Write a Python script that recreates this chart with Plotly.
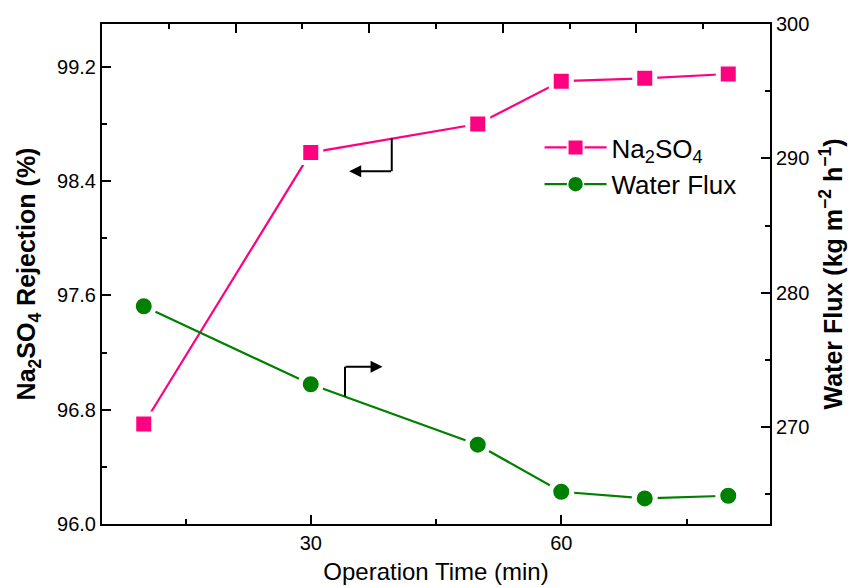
import plotly.graph_objects as go

# Operation time (min)
time_min = [10, 30, 50, 60, 70, 80]
# Na2SO4 rejection (%)
rejection = [96.70, 98.60, 98.80, 99.10, 99.12, 99.15]
# Water flux (kg m-2 h-1)
water_flux = [279.0, 273.2, 268.7, 265.2, 264.7, 264.9]

PINK = "#FF0080"
GREEN = "#008000"
FONT = "Arial, Liberation Sans, sans-serif"
NA2SO4 = "Na<sub>2</sub>SO<sub>4</sub>"

fig = go.Figure()

# data curves (white marker outline leaves a small gap between line and symbol)
fig.add_trace(go.Scatter(
    x=time_min, y=rejection, name=NA2SO4, showlegend=False,
    mode="lines+markers",
    line=dict(color=PINK, width=2.2),
    marker=dict(symbol="square", size=20, color=PINK,
                line=dict(color="white", width=5)),
    xaxis="x", yaxis="y",
))
fig.add_trace(go.Scatter(
    x=time_min, y=water_flux, name="Water Flux", showlegend=False,
    mode="lines+markers",
    line=dict(color=GREEN, width=2.2),
    marker=dict(symbol="circle", size=21, color=GREEN,
                line=dict(color="white", width=5)),
    xaxis="x", yaxis="y2",
))

# legend entries (empty traces so the legend symbols keep full size)
fig.add_trace(go.Scatter(
    x=[None], y=[None], name=NA2SO4, mode="lines+markers",
    line=dict(color=PINK, width=2.2),
    marker=dict(symbol="square", size=16, color=PINK,
                line=dict(color="white", width=2)),
    xaxis="x", yaxis="y",
))
fig.add_trace(go.Scatter(
    x=[None], y=[None], name="Water Flux", mode="lines+markers",
    line=dict(color=GREEN, width=2.2),
    marker=dict(symbol="circle", size=16, color=GREEN,
                line=dict(color="white", width=1.5)),
    xaxis="x", yaxis="y2",
))

# invisible trace to carry the top mirror axis
fig.add_trace(go.Scatter(x=[5, 85], y=[96, 96], mode="lines",
                         line=dict(width=0), hoverinfo="skip",
                         showlegend=False, xaxis="x2", yaxis="y"))

axis_common = dict(
    showline=True, linecolor="black", linewidth=2,
    ticks="inside", tickcolor="black", tickwidth=2, ticklen=9,
    showgrid=False, zeroline=False, automargin=False,
    tickfont=dict(family=FONT, size=20, color="black"),
)

fig.update_layout(
    width=857, height=587,
    margin=dict(l=102, r=87, t=24, b=63),
    paper_bgcolor="white", plot_bgcolor="white",
    font=dict(family=FONT, color="black"),
    xaxis=dict(
        range=[5, 85], tickvals=[30, 60],
        minor=dict(tickvals=[15, 45, 75], ticklen=5, tickwidth=2,
                   tickcolor="black", ticks="inside"),
        title=dict(text="Operation Time (min)",
                   font=dict(family=FONT, size=24), standoff=10),
        **axis_common,
    ),
    xaxis2=dict(
        range=[5, 85], overlaying="x", side="top",
        tickvals=[21, 37, 53, 69], showticklabels=False,
        minor=dict(tickvals=[13, 29, 45, 61, 77], ticklen=5, tickwidth=2,
                   tickcolor="black", ticks="inside"),
        **axis_common,
    ),
    yaxis=dict(
        range=[96.0, 99.5],
        tickvals=[96.0, 96.8, 97.6, 98.4, 99.2],
        ticktext=["96.0", "96.8", "97.6", "98.4", "99.2"],
        minor=dict(tickvals=[96.4, 97.2, 98.0, 98.8], ticklen=5, tickwidth=2,
                   tickcolor="black", ticks="inside"),
        title=dict(text="<b>" + NA2SO4 + " Rejection (%)</b>",
                   font=dict(family=FONT, size=25), standoff=14),
        **axis_common,
    ),
    yaxis2=dict(
        range=[262.8, 300], overlaying="y", side="right",
        tickvals=[270, 280, 290, 300],
        minor=dict(tickvals=[265, 275, 285, 295], ticklen=5, tickwidth=2,
                   tickcolor="black", ticks="inside"),
        title=dict(text="<b>Water Flux (kg m<sup>\u22122</sup> h<sup>\u22121</sup>)</b>",
                   font=dict(family=FONT, size=25), standoff=16),
        **axis_common,
    ),
    legend=dict(
        x=0.655, y=0.80, xanchor="left", yanchor="top",
        bgcolor="rgba(0,0,0,0)", borderwidth=0,
        font=dict(family=FONT, size=26, color="black"),
        tracegroupgap=0, itemwidth=62,
    ),
    showlegend=True,
)

# axis pointer for the rejection curve (points left)
fig.add_shape(type="line", xref="x", yref="y",
              x0=39.7, x1=39.7, y0=98.70, y1=98.47,
              line=dict(color="black", width=2))
fig.add_annotation(xref="x", yref="y", axref="x", ayref="y",
                   x=34.6, y=98.47, ax=39.8, ay=98.47, text="",
                   showarrow=True, arrowhead=2, arrowsize=1.2,
                   arrowwidth=2, arrowcolor="black")

# axis pointer for the water flux curve (points right)
fig.add_shape(type="line", xref="x", yref="y2",
              x0=34.1, x1=34.1, y0=272.3, y1=274.5,
              line=dict(color="black", width=2))
fig.add_annotation(xref="x", yref="y2", axref="x", ayref="y2",
                   x=38.6, y=274.5, ax=34.0, ay=274.5, text="",
                   showarrow=True, arrowhead=2, arrowsize=1.2,
                   arrowwidth=2, arrowcolor="black")

fig.write_html("out.html")
